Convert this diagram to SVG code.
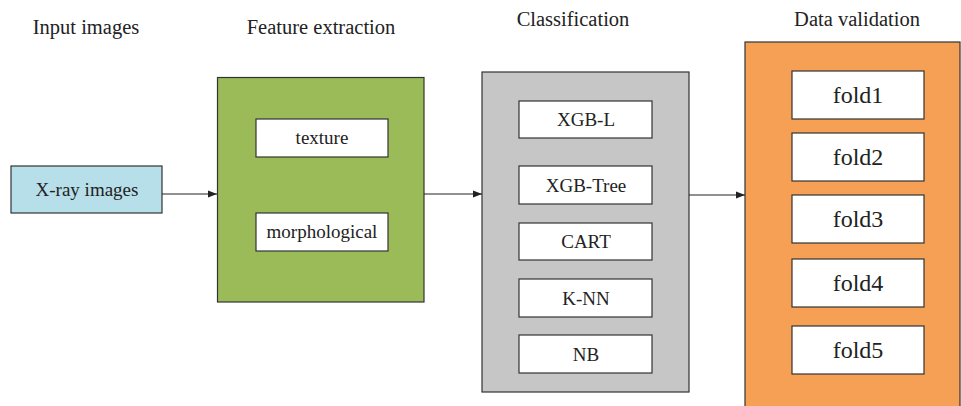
<svg xmlns="http://www.w3.org/2000/svg" width="961" height="406" viewBox="0 0 961 406">
<defs>
<style>
text{font-family:"Liberation Serif","Times New Roman",serif;fill:#222;text-anchor:middle}
.t{font-size:20.5px}
.l{font-size:19px}
.f{font-size:24px}
.box{stroke:#333;stroke-width:1.2}
.w{fill:#fff;stroke:#333;stroke-width:1.2}
.c{stroke:#222;stroke-width:1.2;fill:none}
</style>
<marker id="ah" viewBox="0 0 10 10" refX="10" refY="5" markerWidth="9" markerHeight="9" markerUnits="userSpaceOnUse" orient="auto">
<path d="M0,1 L10,5 L0,9 z" fill="#222"/>
</marker>
</defs>
<rect width="961" height="406" fill="#fff"/>
<text class="t" x="86" y="34">Input images</text>
<text class="t" x="321" y="34">Feature extraction</text>
<text class="t" x="573" y="26">Classification</text>
<text class="t" x="857" y="26">Data validation</text>
<g id="input">
<rect class="box" x="11" y="166" width="151" height="47" fill="#b7dfea"/>
<text class="l" x="87" y="196">X-ray images</text>
</g>
<g id="feature">
<rect class="box" x="217.5" y="77.5" width="206.5" height="224.5" fill="#9bbb59"/>
<g id="texture"><rect class="w" x="256" y="119" width="132" height="38"/><text class="l" x="322" y="144">texture</text></g>
<g id="morphological"><rect class="w" x="256" y="213" width="132" height="38"/><text class="l" x="322" y="238">morphological</text></g>
</g>
<g id="classification">
<rect class="box" x="482" y="72" width="207" height="320" fill="#c6c6c6"/>
<g id="xgbl"><rect class="w" x="519" y="101" width="133" height="37"/><text class="l" x="586" y="126">XGB-L</text></g>
<g id="xgbtree"><rect class="w" x="519" y="166" width="133" height="38"/><text class="l" x="586" y="192">XGB-Tree</text></g>
<g id="cart"><rect class="w" x="519" y="223" width="133" height="37"/><text class="l" x="586" y="248">CART</text></g>
<g id="knn"><rect class="w" x="519" y="279" width="133" height="38"/><text class="l" x="586" y="305">K-NN</text></g>
<g id="nb"><rect class="w" x="519" y="335" width="133" height="38"/><text class="l" x="586" y="361">NB</text></g>
</g>
<g id="validation">
<rect class="box" x="745" y="42" width="215" height="370" fill="#f5a055"/>
<g id="fold1"><rect class="w" x="792" y="71" width="132" height="48"/><text class="f" x="858" y="103">fold1</text></g>
<g id="fold2"><rect class="w" x="792" y="133" width="132" height="48"/><text class="f" x="858" y="165">fold2</text></g>
<g id="fold3"><rect class="w" x="792" y="195" width="132" height="48"/><text class="f" x="858" y="227">fold3</text></g>
<g id="fold4"><rect class="w" x="792" y="259" width="132" height="48"/><text class="f" x="858" y="291">fold4</text></g>
<g id="fold5"><rect class="w" x="792" y="326" width="132" height="48"/><text class="f" x="858" y="358">fold5</text></g>
</g>
<g id="connectors">
<line class="c" x1="162" y1="194" x2="217" y2="194" marker-end="url(#ah)"/>
<line class="c" x1="424" y1="194" x2="482" y2="194" marker-end="url(#ah)"/>
<line class="c" x1="689" y1="195" x2="745" y2="195" marker-end="url(#ah)"/>
</g>
</svg>
